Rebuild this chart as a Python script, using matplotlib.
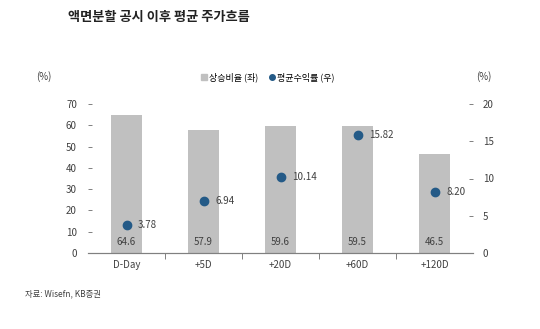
import matplotlib
matplotlib.use("Agg")
import matplotlib.pyplot as plt
import numpy as np
from matplotlib.lines import Line2D

plt.rcParams['font.family'] = ['Noto Sans CJK KR', 'DejaVu Sans']

categories = ["D-Day", "+5D", "+20D", "+60D", "+120D"]
rise_ratio = [64.6, 57.9, 59.6, 59.5, 46.5]
avg_return = [3.78, 6.94, 10.14, 15.82, 8.20]
ret_labels = ["3.78", "6.94", "10.14", "15.82", "8.20"]

fig = plt.figure(figsize=(5.4, 3.29), dpi=100)
ax = fig.add_axes([88/540, 1-253/329, (473-88)/540, (253-104)/329])
ax2 = ax.twinx()

x = np.arange(len(categories))
bar_c = "#c0c0c0"
dot_c = "#245a87"
txt_c = "#404040"

ax.bar(x, rise_ratio, width=0.4, color=bar_c, zorder=1)
for xi, v in zip(x, rise_ratio):
    ax.text(xi, 3, f"{v:.1f}", ha="center", va="bottom", fontsize=7, color=txt_c)

ax2.scatter(x, avg_return, s=36, color=dot_c, zorder=3)
for xi, v, lab in zip(x, avg_return, ret_labels):
    ax2.text(xi + 0.15, v, lab, ha="left", va="center", fontsize=7, color=txt_c)

ax.set_xlim(-0.5, len(categories) - 0.5)
ax.set_ylim(0, 70)
ax.set_yticks(range(0, 71, 10))
ax2.set_ylim(0, 20)
ax2.set_yticks(range(0, 21, 5))

for a in (ax, ax2):
    for s in ("top", "left", "right"):
        a.spines[s].set_visible(False)
    a.spines["bottom"].set_color("#808080")
    a.spines["bottom"].set_linewidth(0.8)

ax.tick_params(axis="y", direction="in", length=3, width=0.7, colors="#808080",
               labelcolor=txt_c, labelsize=7, pad=8)
ax2.tick_params(axis="y", direction="in", length=3, width=0.7, colors="#808080",
                labelcolor=txt_c, labelsize=7, pad=7)
ax.set_xticks(x)
ax.set_xticklabels(categories)
ax.tick_params(axis="x", length=0, labelsize=7, labelcolor=txt_c, pad=5)
ax.set_xticks(np.arange(0.5, len(categories) - 1), minor=True)
ax.tick_params(axis="x", which="minor", direction="out", length=4, width=0.7, colors="#808080")

fig.text(68/540, 1-17/329, "액면분할 공시 이후 평균 주가흐름", fontsize=9.5, fontweight="bold",
         ha="left", va="center", color="#222222")
fig.text(44/540, 1-77/329, "(%)", fontsize=7, ha="center", va="center", color=txt_c)
fig.text(484/540, 1-77/329, "(%)", fontsize=7, ha="center", va="center", color=txt_c)

handles = [Line2D([], [], marker="s", linestyle="none", color=bar_c, markersize=4),
           Line2D([], [], marker="o", linestyle="none", color=dot_c, markersize=4)]
fig.legend(handles, ["상승비율 (좌)", "평균수익률 (우)"], loc="center",
           bbox_to_anchor=(267/540, 1-77/329), ncol=2, frameon=False, fontsize=6.5,
           handletextpad=0.1, columnspacing=1.0, handlelength=1.0)

fig.text(25/540, 1-294/329, "자료: Wisefn, KB증권", fontsize=6, ha="left", va="center", color=txt_c)

fig.savefig("out.png", dpi=100)
